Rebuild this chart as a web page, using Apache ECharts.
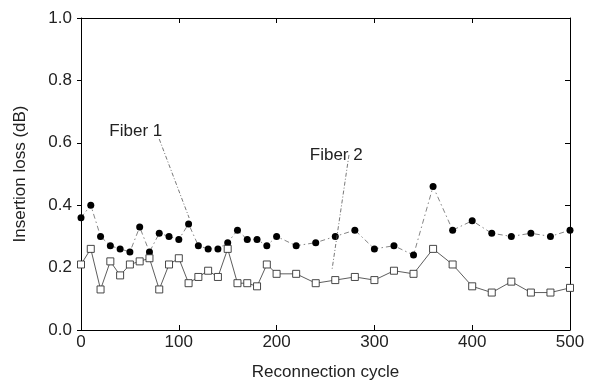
<!DOCTYPE html>
<html><head><meta charset="utf-8">
<script src="https://cdn.jsdelivr.net/npm/echarts@6/dist/echarts.min.js"></script>
<style>html,body{margin:0;padding:0;background:#fff}#c{width:592px;height:381px}</style>
</head><body><div id="c"></div>
<script>
const cycles = [0,10,20,30,40,50,60,70,80,90,100,110,120,130,140,150,160,170,180,190,200,220,240,260,280,300,320,340,360,380,400,420,440,460,480,500];
const fiber1 = [0.36,0.40,0.30,0.27,0.26,0.25,0.33,0.25,0.31,0.30,0.29,0.34,0.27,0.26,0.26,0.28,0.32,0.29,0.29,0.27,0.30,0.27,0.28,0.30,0.32,0.26,0.27,0.24,0.46,0.32,0.35,0.31,0.30,0.31,0.30,0.32];
const fiber2 = [0.21,0.26,0.13,0.22,0.175,0.21,0.22,0.23,0.13,0.21,0.23,0.15,0.17,0.19,0.17,0.26,0.15,0.15,0.14,0.21,0.18,0.18,0.15,0.16,0.17,0.16,0.19,0.18,0.26,0.21,0.14,0.12,0.155,0.12,0.12,0.135];
const xTicks = [0,100,200,300,400,500];
const yTicks = ['0.0','0.2','0.4','0.6','0.8','1.0'];
const labels = [
  {name:'Fiber 1', at:[56,0.638], from:[80,0.612], to:[110.6,0.359]},
  {name:'Fiber 2', at:[261,0.56], from:[274,0.561], to:[256.6,0.192]}
];

const font = 'Liberation Sans, Arial, Helvetica, sans-serif';
const chart = echarts.init(document.getElementById('c'), null, {renderer:'canvas'});
const pairs = (ys) => cycles.map((x,i)=>[x, ys[i]]);
const axisCommon = {
  type:'value', min:0, splitLine:{show:false},
  axisLine:{show:true, onZero:false, lineStyle:{color:'#000', width:1}},
  axisTick:{show:true, inside:true, length:5, lineStyle:{color:'#000'}}
};
chart.setOption({
  animation:false,
  backgroundColor:'#fff',
  grid:{left:81, right:22, top:18, bottom:51, containLabel:false, outerBoundsMode:'none'},
  xAxis:[
    Object.assign({}, axisCommon, {position:'bottom', max:500, interval:100,
      name:'Reconnection cycle', nameLocation:'middle', nameGap:34,
      nameTextStyle:{fontFamily:font, fontSize:17, color:'#222'},
      axisLabel:{fontFamily:font, fontSize:17, color:'#222', margin:4}}),
    Object.assign({}, axisCommon, {position:'top', max:500, interval:100, axisLabel:{show:false}})
  ],
  yAxis:[
    Object.assign({}, axisCommon, {position:'left', max:1, interval:0.2,
      axisTick:{show:true, inside:false, length:4, lineStyle:{color:'#000'}},
      name:'Insertion loss (dB)', nameLocation:'middle', nameGap:52,
      nameTextStyle:{fontFamily:font, fontSize:17, color:'#222'},
      axisLabel:{fontFamily:font, fontSize:17, color:'#222', margin:9,
        formatter:(v)=>yTicks[Math.round(v/0.2)] || ''}}),
    Object.assign({}, axisCommon, {position:'right', max:1, interval:0.2, axisLabel:{show:false}})
  ],
  series:[
    {
      name:'Fiber 1', type:'line', data:pairs(fiber1),
      symbol:'circle', symbolSize:7,
      itemStyle:{color:'#000'},
      lineStyle:{color:'#666', width:0.8, type:[5,3,1.5,3]},
      markLine:{silent:true, symbol:['none','none'], label:{show:false},
        lineStyle:{color:'#555', width:0.8, type:[4,2,1,2]},
        data:[[{coord:labels[0].from},{coord:labels[0].to}]]},
      markPoint:{silent:true, symbol:'circle', symbolSize:0,
        label:{show:true, position:'inside', formatter:(p)=>p.name, fontFamily:font, fontSize:17, color:'#222'},
        data:[{name:labels[0].name, coord:labels[0].at}]}
    },
    {
      name:'Fiber 2', type:'line', data:pairs(fiber2),
      symbol:'rect', symbolSize:7,
      itemStyle:{color:'#fff', borderColor:'#333', borderWidth:0.9},
      lineStyle:{color:'#333', width:0.8},
      markLine:{silent:true, symbol:['none','none'], label:{show:false},
        lineStyle:{color:'#555', width:0.8, type:[4,2,1,2]},
        data:[[{coord:labels[1].from},{coord:labels[1].to}]]},
      markPoint:{silent:true, symbol:'circle', symbolSize:0,
        label:{show:true, position:'inside', formatter:(p)=>p.name, fontFamily:font, fontSize:17, color:'#222'},
        data:[{name:labels[1].name, coord:labels[1].at}]}
    }
  ]
});
</script>
</body></html>
